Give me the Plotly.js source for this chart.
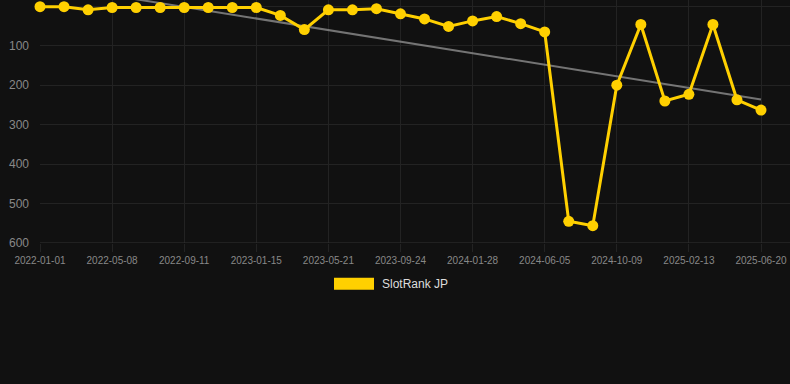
<!DOCTYPE html>
<html>
<head>
<meta charset="utf-8">
<script src="https://cdn.plot.ly/plotly-3.0.1.min.js"></script>
<style>
html,body{margin:0;padding:0;background:#111111;}
#chart{width:790px;height:384px;}
</style>
</head>
<body>
<div id="chart"></div>
<script>
// Dates (category positions); only every third is labelled
const dates = [
  "2022-01-01","2022-02-12","2022-03-26","2022-05-08","2022-06-19","2022-07-31",
  "2022-09-11","2022-10-23","2022-12-04","2023-01-15","2023-02-26","2023-04-09",
  "2023-05-21","2023-07-02","2023-08-13","2023-09-24","2023-11-05","2023-12-17",
  "2024-01-28","2024-03-11","2024-04-23","2024-06-05","2024-07-17","2024-08-28",
  "2024-10-09","2024-11-20","2025-01-01","2025-02-13","2025-03-27","2025-05-08",
  "2025-06-20"
];
const rankJP = [
  1, 1, 9, 3, 3, 3,
  3, 3, 3, 3, 23, 59,
  9, 9, 6, 19, 32, 51,
  37, 26, 44, 65, 545, 556,
  200, 46, 240, 223, 46, 237,
  263
];
const tickLabels = [
  "2022-01-01","2022-05-08","2022-09-11","2023-01-15","2023-05-21","2023-09-24",
  "2024-01-28","2024-06-05","2024-10-09","2025-02-13","2025-06-20"
];
const trendX = ["2022-01-01","2025-06-20"];
const trendY = [-57, 236];
const yTicks = [0,100,200,300,400,500,600];
const seriesName = "SlotRank JP";

const PW = 750; // plot width in px (left margin 40, right edge at 790)
const PH = 243.3;
const traces = [
  {
    x: trendX, y: trendY, type: "scatter", mode: "lines",
    line: {color: "rgba(150,150,150,0.75)", width: 2},
    hoverinfo: "skip", showlegend: false
  },
  {
    x: dates, y: rankJP, type: "scatter", mode: "lines+markers",
    name: seriesName,
    line: {color: "#ffd000", width: 3},
    marker: {color: "#ffd000", size: 11},
    cliponaxis: false, showlegend: false
  }
];

const layout = {
  width: 790, height: 384,
  paper_bgcolor: "#111111", plot_bgcolor: "#111111",
  margin: {l: 40, r: 0, t: 0, b: 384 - PH},
  font: {family: "Liberation Sans, Arial, sans-serif", color: "#888"},
  xaxis: {
    type: "category",
    categoryorder: "array", categoryarray: dates,
    range: [0, (dates.length - 1) + 29 / 24.033],
    tickmode: "array", tickvals: tickLabels, ticktext: tickLabels,
    showgrid: true, gridcolor: "#232323", gridwidth: 1,
    zeroline: false, showline: false,
    ticks: "outside", ticklen: 8, tickcolor: "#232323",
    tickfont: {size: 10, color: "#888"},
    fixedrange: true
  },
  yaxis: {
    range: [600, -16],
    tickmode: "array", tickvals: yTicks,
    showgrid: true, gridcolor: "#232323", gridwidth: 1,
    zeroline: false, showline: false,
    ticks: "", ticklabelstandoff: 10,
    tickfont: {size: 12, color: "#888"},
    fixedrange: true
  },
  shapes: [
    {type: "line", xref: "paper", yref: "y", x0: 0, x1: 1, y0: 600, y1: 600,
     line: {color: "#333", width: 1}},
    {type: "rect", xref: "paper", yref: "paper",
     x0: (334-40)/PW, x1: (374-40)/PW,
     y0: (PH-290)/PH, y1: (PH-278)/PH,
     fillcolor: "#ffd000", line: {width: 0}}
  ],
  annotations: [
    {xref: "paper", yref: "paper", x: (380-40)/PW, y: (PH-284.5)/PH,
     xanchor: "left", yanchor: "middle", showarrow: false,
     text: seriesName, font: {size: 12, color: "#dddddd"}}
  ]
};

Plotly.newPlot("chart", traces, layout, {displayModeBar: false, staticPlot: true});
</script>
</body>
</html>
